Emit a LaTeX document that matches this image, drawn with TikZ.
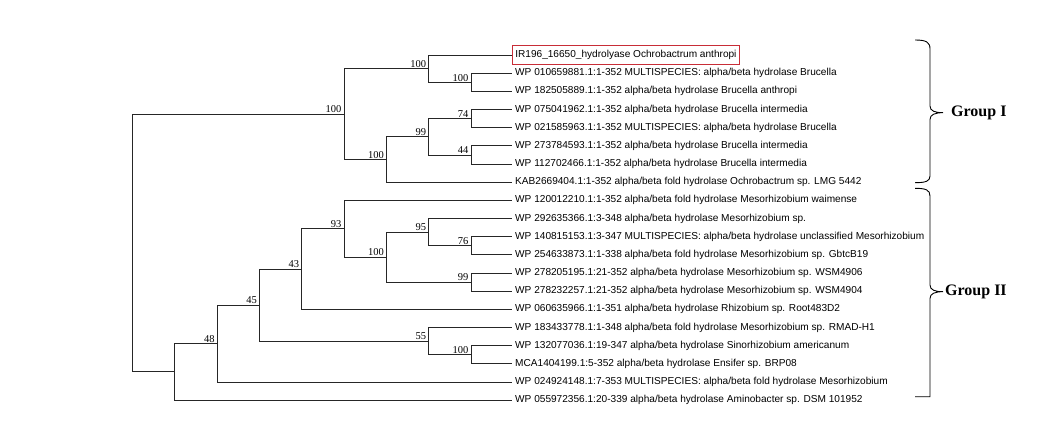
\documentclass[tikz,border=0pt]{standalone}
\usepackage{fontspec}
\setmainfont{Liberation Serif}
\newfontfamily\leaffont{Liberation Sans}
\usetikzlibrary{positioning}
\definecolor{boxred}{RGB}{200,45,55}
\tikzset{
  branch/.style={draw=black!85, line width=0.75pt},
  leaf/.style={anchor=west, inner sep=3pt, font=\leaffont\fontsize{10.1}{11}\selectfont},
  boot/.style={anchor=south east, inner sep=0.8pt, xshift=-1.5pt, font=\fontsize{10.5}{11}\selectfont},
  grouplab/.style={anchor=west, inner sep=0pt, font=\bfseries\fontsize{16}{18}\selectfont},
  bracket/.style={draw=black, line width=0.9pt}
}
\begin{document}
\begin{tikzpicture}[x=1pt,y=-1pt]
\useasboundingbox (0,0) rectangle (1062,421);
% inner nodes of the tree
\coordinate (root) at (132.3,242.85);
\coordinate (nGI) at (343.9,114.0);
\coordinate (nA) at (428.6,68.6);
\coordinate (nB) at (470.9,82.25);
\coordinate (nC) at (386.3,159.4);
\coordinate (nD) at (428.6,136.7);
\coordinate (nE) at (470.9,118.55);
\coordinate (nF) at (470.9,154.9);
\coordinate (nGII) at (174.6,371.7);
\coordinate (n48) at (217.0,343.4);
\coordinate (n45) at (259.3,304.95);
\coordinate (n43) at (301.6,268.9);
\coordinate (n93) at (343.9,228.65);
\coordinate (n100c) at (386.3,257.0);
\coordinate (n95) at (428.6,232.05);
\coordinate (n76) at (470.9,245.7);
\coordinate (n99b) at (470.9,282.0);
\coordinate (n55) at (428.6,341.0);
\coordinate (n100b) at (470.9,354.65);
% leaves
\node[leaf, draw=boxred, line width=0.6pt, minimum height=18.5pt] (ir196) at (512,55.0) {IR196\_16650\_hydrolyase Ochrobactrum anthropi};
\node[leaf] (wp010659881) at (512,73.2) {WP 010659881.1:1-352 MULTISPECIES: alpha/beta hydrolase Brucella};
\node[leaf] (wp182505889) at (512,91.3) {WP 182505889.1:1-352 alpha/beta hydrolase Brucella anthropi};
\node[leaf] (wp075041962) at (512,109.5) {WP 075041962.1:1-352 alpha/beta hydrolase Brucella intermedia};
\node[leaf] (wp021585963) at (512,127.6) {WP 021585963.1:1-352 MULTISPECIES: alpha/beta hydrolase Brucella};
\node[leaf] (wp273784593) at (512,145.8) {WP 273784593.1:1-352 alpha/beta hydrolase Brucella intermedia};
\node[leaf] (wp112702466) at (512,164.0) {WP 112702466.1:1-352 alpha/beta hydrolase Brucella intermedia};
\node[leaf] (kab2669404) at (512,182.1) {KAB2669404.1:1-352 alpha/beta fold hydrolase Ochrobactrum sp. LMG 5442};
\node[leaf] (wp120012210) at (512,200.3) {WP 120012210.1:1-352 alpha/beta fold hydrolase Mesorhizobium waimense};
\node[leaf] (wp292635366) at (512,218.4) {WP 292635366.1:3-348 alpha/beta hydrolase Mesorhizobium sp.};
\node[leaf] (wp140815153) at (512,236.6) {WP 140815153.1:3-347 MULTISPECIES: alpha/beta hydrolase unclassified Mesorhizobium};
\node[leaf] (wp254633873) at (512,254.8) {WP 254633873.1:1-338 alpha/beta fold hydrolase Mesorhizobium sp. GbtcB19};
\node[leaf] (wp278205195) at (512,272.9) {WP 278205195.1:21-352 alpha/beta hydrolase Mesorhizobium sp. WSM4906};
\node[leaf] (wp278232257) at (512,291.1) {WP 278232257.1:21-352 alpha/beta hydrolase Mesorhizobium sp. WSM4904};
\node[leaf] (wp060635966) at (512,309.2) {WP 060635966.1:1-351 alpha/beta hydrolase Rhizobium sp. Root483D2};
\node[leaf] (wp183433778) at (512,327.4) {WP 183433778.1:1-348 alpha/beta fold hydrolase Mesorhizobium sp. RMAD-H1};
\node[leaf] (wp132077036) at (512,345.6) {WP 132077036.1:19-347 alpha/beta hydrolase Sinorhizobium americanum};
\node[leaf] (mca1404199) at (512,363.7) {MCA1404199.1:5-352 alpha/beta hydrolase Ensifer sp. BRP08};
\node[leaf] (wp024924148) at (512,381.9) {WP 024924148.1:7-353 MULTISPECIES: alpha/beta fold hydrolase Mesorhizobium};
\node[leaf] (wp055972356) at (512,400.0) {WP 055972356.1:20-339 alpha/beta hydrolase Aminobacter sp. DSM 101952};
% branches, group I
\draw[branch] (root) |- (nGI);
\draw[branch] (root) |- (nGII);
\draw[branch] (nGI) |- (nA);
\draw[branch] (nGI) |- (nC);
\draw[branch] (nA) |- (ir196.west);
\draw[branch] (nA) |- (nB);
\draw[branch] (nB) |- (wp010659881.west);
\draw[branch] (nB) |- (wp182505889.west);
\draw[branch] (nC) |- (nD);
\draw[branch] (nC) |- (kab2669404.west);
\draw[branch] (nD) |- (nE);
\draw[branch] (nD) |- (nF);
\draw[branch] (nE) |- (wp075041962.west);
\draw[branch] (nE) |- (wp021585963.west);
\draw[branch] (nF) |- (wp273784593.west);
\draw[branch] (nF) |- (wp112702466.west);
% branches, group II
\draw[branch] (nGII) |- (n48);
\draw[branch] (nGII) |- (wp055972356.west);
\draw[branch] (n48) |- (n45);
\draw[branch] (n48) |- (wp024924148.west);
\draw[branch] (n45) |- (n43);
\draw[branch] (n45) |- (n55);
\draw[branch] (n43) |- (n93);
\draw[branch] (n43) |- (wp060635966.west);
\draw[branch] (n93) |- (wp120012210.west);
\draw[branch] (n93) |- (n100c);
\draw[branch] (n100c) |- (n95);
\draw[branch] (n100c) |- (n99b);
\draw[branch] (n95) |- (wp292635366.west);
\draw[branch] (n95) |- (n76);
\draw[branch] (n76) |- (wp140815153.west);
\draw[branch] (n76) |- (wp254633873.west);
\draw[branch] (n99b) |- (wp278205195.west);
\draw[branch] (n99b) |- (wp278232257.west);
\draw[branch] (n55) |- (wp183433778.west);
\draw[branch] (n55) |- (n100b);
\draw[branch] (n100b) |- (wp132077036.west);
\draw[branch] (n100b) |- (mca1404199.west);
% bootstrap values
\node[boot] (bGI) at (nGI) {100};
\node[boot] (bA) at (nA) {100};
\node[boot] (bB) at (nB) {100};
\node[boot] (bC) at (nC) {100};
\node[boot] (bD) at (nD) {99};
\node[boot] (bE) at (nE) {74};
\node[boot] (bF) at (nF) {44};
\node[boot] (b48) at (n48) {48};
\node[boot] (b45) at (n45) {45};
\node[boot] (b43) at (n43) {43};
\node[boot] (b93) at (n93) {93};
\node[boot] (b100c) at (n100c) {100};
\node[boot] (b95) at (n95) {95};
\node[boot] (b76) at (n76) {76};
\node[boot] (b99b) at (n99b) {99};
\node[boot] (b55) at (n55) {55};
\node[boot] (b100b) at (n100b) {100};
% group brackets
\coordinate (tipI) at (943,112.7);
\coordinate (tipII) at (943,291.7);
\draw[bracket] (915,40) .. controls (926,40) and (930,42) .. (930,49) -- (930,106)
  .. controls (930,111) and (935,112.7) .. (tipI)
  .. controls (935,112.7) and (930,114.5) .. (930,119.5) -- (930,176)
  .. controls (930,181) and (926,182.7) .. (915,182.7);
\draw[bracket] (915,188.3) .. controls (926,188.3) and (930,190) .. (930,196) -- (930,285)
  .. controls (930,290) and (935,291.7) .. (tipII)
  .. controls (935,291.7) and (930,293.5) .. (930,298.5) -- (930,396.7) -- (915,396.7);
\node[grouplab, right=8pt of tipI] (grpI) {Group I};
\node[grouplab, right=2pt of tipII] (grpII) {Group II};
\end{tikzpicture}
\end{document}
